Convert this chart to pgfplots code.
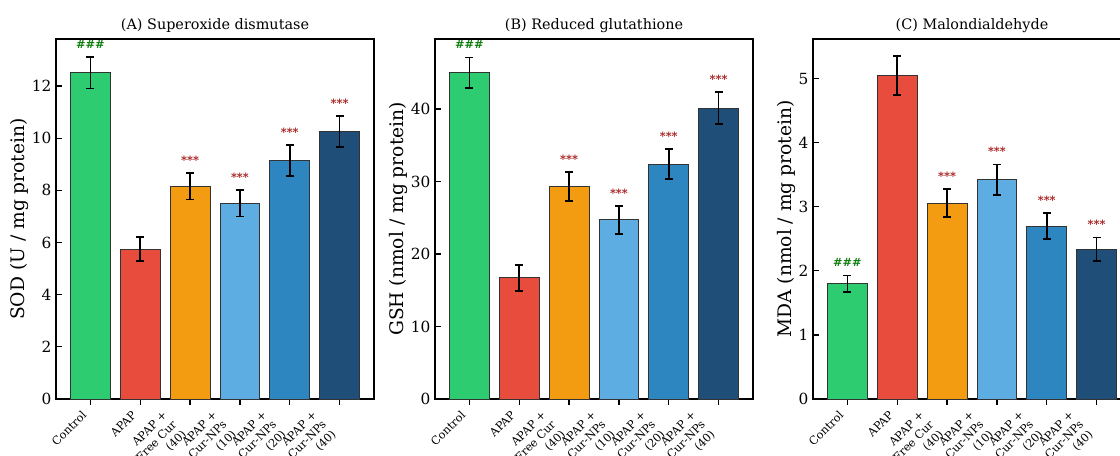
\documentclass[border=0pt]{standalone}
\usepackage{pgfplots}
\pgfplotsset{compat=1.18}
\usepackage{graphicx}
\usepackage{fontspec}
\setmainfont{DejaVu Serif}

\definecolor{cCtrl}{HTML}{2ECC71}
\definecolor{cApap}{HTML}{E74C3C}
\definecolor{cFree}{HTML}{F39C12}
\definecolor{cNa}{HTML}{5DADE2}
\definecolor{cNb}{HTML}{2E86C1}
\definecolor{cNc}{HTML}{1F4E79}
\definecolor{cHash}{HTML}{0E7D0E}
\definecolor{cStar}{HTML}{A31515}

\newcommand{\xl}[1]{\rotatebox{45}{\begin{tabular}{@{}r@{}}#1\end{tabular}}}

\tikzset{
  hash/.style={anchor=base, yshift=6.5pt, text=cHash, font=\fontsize{8.5}{9}\selectfont\bfseries},
  star/.style={anchor=base, yshift=6.5pt, text=cStar, font=\fontsize{8.5}{9}\selectfont\bfseries},
}
\pgfplotsset{
  panel/.style={
    scale only axis, width=238.5pt, height=270pt, anchor=south west,
    xmin=-0.69, xmax=5.69, ymin=0,
    axis line style={line width=1.1pt, black},
    tick pos=left, tick align=inside, major tick length=4.5pt,
    every tick/.style={black, line width=0.9pt},
    xtick={0,1,2,3,4,5},
    xticklabels={\xl{Control},\xl{APAP},\xl{APAP +\\Free Cur\\(40)},\xl{APAP +\\Cur-NPs\\(10)},\xl{APAP +\\Cur-NPs\\(20)},\xl{APAP +\\Cur-NPs\\(40)}},
    xticklabel style={anchor=north east, inner sep=0pt, yshift=-3pt, font=\fontsize{8.5}{10.2}\selectfont},
    yticklabel style={font=\fontsize{11.5}{13}\selectfont},
    /pgf/number format/assume math mode=true,
    title style={font=\fontsize{10.8}{13}\selectfont, yshift=-5pt},
    ylabel style={font=\fontsize{14}{16}\selectfont, yshift=-4.5pt},
    ybar, bar width=0.8, bar shift=0pt,
    every axis plot/.append style={draw=black!80, line width=0.7pt},
    error bars/y dir=both, error bars/y explicit,
    error bars/error bar style={line width=1.3pt, black},
    error bars/error mark options={line width=1.3pt, black, mark size=3pt, rotate=90},
  },
}

\begin{document}
\begin{tikzpicture}
% (A)
\begin{axis}[panel, at={(42pt,42pt)}, ymax=13.8, ytick={0,2,4,6,8,10,12},
  title={(A) Superoxide dismutase}, ylabel={SOD (U / mg protein)}]
\addplot[fill=cCtrl] coordinates {(0,12.50) +- (0,0.60)};
\addplot[fill=cApap] coordinates {(1,5.75) +- (0,0.45)};
\addplot[fill=cFree] coordinates {(2,8.15) +- (0,0.50)};
\addplot[fill=cNa] coordinates {(3,7.50) +- (0,0.50)};
\addplot[fill=cNb] coordinates {(4,9.15) +- (0,0.59)};
\addplot[fill=cNc] coordinates {(5,10.25) +- (0,0.60)};
\node[hash] at (axis cs:0,13.10) {\#\#\#};
\node[star] at (axis cs:2,8.65) {***};
\node[star] at (axis cs:3,8.00) {***};
\node[star] at (axis cs:4,9.74) {***};
\node[star] at (axis cs:5,10.85) {***};
\end{axis}
% (B)
\begin{axis}[panel, at={(326.25pt,42pt)}, ymax=49.66, ytick={0,10,20,30,40},
  title={(B) Reduced glutathione}, ylabel={GSH (nmol / mg protein)}]
\addplot[fill=cCtrl] coordinates {(0,45.0) +- (0,2.1)};
\addplot[fill=cApap] coordinates {(1,16.7) +- (0,1.8)};
\addplot[fill=cFree] coordinates {(2,29.3) +- (0,2.0)};
\addplot[fill=cNa] coordinates {(3,24.7) +- (0,1.95)};
\addplot[fill=cNb] coordinates {(4,32.4) +- (0,2.1)};
\addplot[fill=cNc] coordinates {(5,40.1) +- (0,2.2)};
\node[hash] at (axis cs:0,47.1) {\#\#\#};
\node[star] at (axis cs:2,31.3) {***};
\node[star] at (axis cs:3,26.65) {***};
\node[star] at (axis cs:4,34.5) {***};
\node[star] at (axis cs:5,42.3) {***};
\end{axis}
% (C)
\begin{axis}[panel, at={(609.75pt,42pt)}, ymax=5.62, ytick={0,1,2,3,4,5},
  title={(C) Malondialdehyde}, ylabel={MDA (nmol / mg protein)}]
\addplot[fill=cCtrl] coordinates {(0,1.80) +- (0,0.13)};
\addplot[fill=cApap] coordinates {(1,5.05) +- (0,0.30)};
\addplot[fill=cFree] coordinates {(2,3.06) +- (0,0.22)};
\addplot[fill=cNa] coordinates {(3,3.42) +- (0,0.24)};
\addplot[fill=cNb] coordinates {(4,2.70) +- (0,0.20)};
\addplot[fill=cNc] coordinates {(5,2.34) +- (0,0.18)};
\node[hash] at (axis cs:0,1.93) {\#\#\#};
\node[star] at (axis cs:2,3.28) {***};
\node[star] at (axis cs:3,3.66) {***};
\node[star] at (axis cs:4,2.90) {***};
\node[star] at (axis cs:5,2.52) {***};
\end{axis}
\pgfresetboundingbox
\useasboundingbox (0,0) rectangle (840pt,341.25pt);
\end{tikzpicture}
\end{document}
